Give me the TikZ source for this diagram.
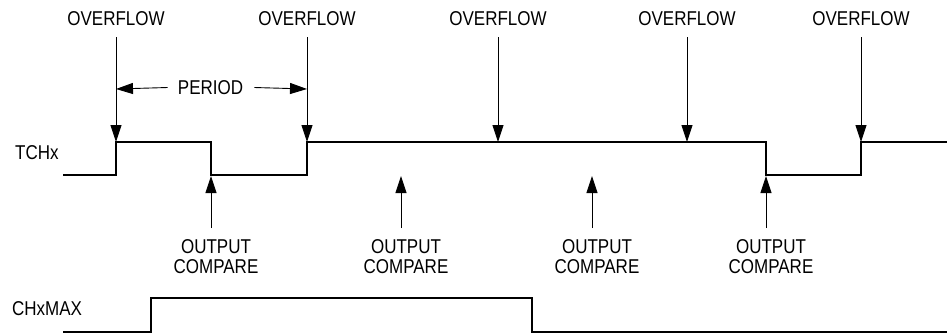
\documentclass[tikz,border=0pt]{standalone}
\usepackage{fontspec}
\setmainfont[FakeStretch=0.85]{Liberation Sans}
\usetikzlibrary{arrows.meta}
\begin{document}
\begin{tikzpicture}[x=1pt,y=-1pt,
  sig/.style={line width=2pt},
  arr/.style={line width=0.9pt,-{Triangle[length=17pt,width=11pt]}},
  lbl/.style={font=\fontsize{20}{20}\selectfont, inner sep=0pt},
  cmp/.style={lbl, align=center}]
\useasboundingbox (0,0) rectangle (947,335);

% TCHx waveform
\coordinate (t0) at (63,175);
\coordinate (r1) at (116,142);
\coordinate (f1) at (211,175);
\coordinate (r2) at (307,142);
\coordinate (m1) at (498,142);
\coordinate (m2) at (687,142);
\coordinate (f2) at (766,175);
\coordinate (r3) at (861,142);
\coordinate (tend) at (947,142);
\draw[sig] (t0) -| (r1) -| (f1) -| (r2) -| (f2) -| (r3) -- (tend);

% CHxMAX waveform
\coordinate (c0) at (63,332);
\coordinate (cr) at (151,298);
\coordinate (cf) at (532,332);
\coordinate (cend) at (947,332);
\draw[sig] (c0) -| (cr) -| (cf) -- (cend);

% signal labels
\node[lbl, anchor=west] (tchx) at (15,153) {TCHx};
\node[lbl, anchor=west] (chxmax) at (12,309) {CHxMAX};

% overflow labels and arrows
\foreach \n/\x/\t in {1/116/r1, 2/307/r2, 3/498/m1, 4/687/m2, 5/861/r3}{
  \node[lbl] (ov\n) at (\x,19) {OVERFLOW};
  \coordinate (ovs\n) at (\x,37);
  \draw[arr] (ovs\n) -- (\t);
}

% period
\node[lbl] (per) at (210.5,87.5) {PERIOD};
\coordinate (pl) at (116,89);
\coordinate (pr) at (307,89);
\draw[arr] ([xshift=-10pt]per.west) -- (pl);
\draw[arr] ([xshift=11pt]per.east) -- (pr);

% output compare labels and arrows
\foreach \n/\x in {1/211, 2/401, 3/592, 4/766}{
  \node[cmp] (oc\n) at (\x+5,257) {OUTPUT\\COMPARE};
  \coordinate (ocs\n) at (\x,228);
  \coordinate (oct\n) at (\x,176);
  \draw[arr] (ocs\n) -- (oct\n);
}
\end{tikzpicture}
\end{document}
